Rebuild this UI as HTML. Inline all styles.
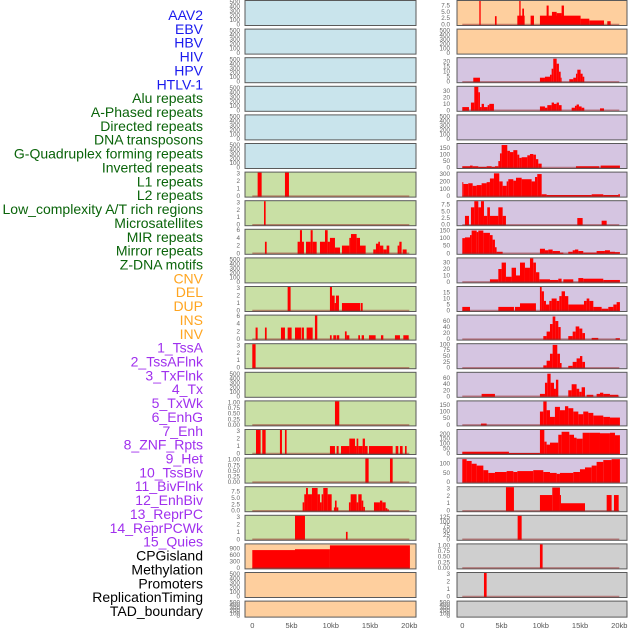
<!DOCTYPE html>
<html><head><meta charset="utf-8"><style>
html,body{margin:0;padding:0;background:#fff;}
svg{display:block;font-family:"Liberation Sans",sans-serif;}
</style></head><body>
<svg id="chart" width="630" height="630" viewBox="0 0 630 630" xmlns="http://www.w3.org/2000/svg"></svg>
<script>
const labelNames = ["AAV2","EBV","HBV","HIV","HPV","HTLV-1","Alu repeats","A-Phased repeats","Directed repeats","DNA transposons","G-Quadruplex forming repeats","Inverted repeats","L1 repeats","L2 repeats","Low_complexity A/T rich regions","Microsatellites","MIR repeats","Mirror repeats","Z-DNA motifs","CNV","DEL","DUP","INS","INV","1_TssA","2_TssAFlnk","3_TxFlnk","4_Tx","5_TxWk","6_EnhG","7_Enh","8_ZNF_Rpts","9_Het","10_TssBiv","11_BivFlnk","12_EnhBiv","13_ReprPC","14_ReprPCWk","15_Quies","CPGisland","Methylation","Promoters","ReplicationTiming","TAD_boundary"];
const labelGroupSizes = [6,13,5,15,5];
const labelGroupColors = ["#1a1aee","#0a640a","#ffa520","#a030ee","#000000"];
const xTickValues = [0,5,10,15,20];
const xTickLabels = ["0","5kb","10kb","15kb","20kb"];

const T500 = ["0","100","200","300","400","500"];
const T3 = ["0","1","2","3"];
const T6 = ["0","2","4","6"];
const T75 = ["0.0","2.5","5.0","7.5"];
const T1 = ["0.00","0.25","0.50","0.75","1.00"];

// left column data: [startKb, endKb, value]
const L6 = [[0.68,1.19,3.3],[4.16,4.67,3.3]];
const L7 = [[1.49,1.7,3.3]];
const L8 = [[1.61,1.83,3],[5.77,6.07,3],[6.07,6.33,6],[6.33,6.58,3],[6.84,7.43,3],[7.43,7.69,6],[7.69,8.2,3],[8.62,9.26,3],[9.26,9.6,6],[9.6,9.89,3],[9.89,10.53,4],[10.53,11.17,1.5],[11.42,12.36,2],[12.36,12.57,4],[12.57,13.29,5],[13.29,13.72,4],[13.72,14.44,2],[15.41,15.75,1],[15.75,16.18,2.5],[16.05,16.26,3],[16.26,16.69,2],[16.69,17.11,1],[17.11,17.45,2],[18.51,18.73,2],[18.73,19.02,3],[19.15,19.66,1]];
const L10 = [[4.5,4.88,3.3],[9.89,10.15,3.3],[10.15,10.49,2],[10.49,10.66,1],[10.66,11.04,2],[11.42,13.72,1],[13.8,14.06,1]];
const L11 = [[0.42,0.68,3],[1.61,1.83,3],[3.65,4.16,3],[4.5,5.01,3],[5.44,6.2,3],[6.28,6.58,3],[6.92,7.69,3],[7.98,8.28,6.3],[9.89,10.11,1],[10.32,10.66,1],[10.74,11.08,1],[11.8,12.02,2],[12.02,12.36,1],[13.5,13.72,1],[13.93,14.23,1],[14.86,15.71,1],[16.39,16.69,1],[18.17,18.81,1],[19.24,19.92,1]];
const L12 = [[0,0.42,3.3]];
const L14 = [[10.53,11.08,1.1]];
const L15 = [[0.47,1.06,3.3],[1.27,1.7,3.3],[3.52,3.78,3.3],[4.16,4.37,3.3],[9.89,10.53,1],[10.74,11.0,1],[11.3,12.36,1],[12.36,13.08,2],[13.08,13.29,1],[13.29,13.5,2],[13.5,14.06,1],[14.06,14.35,2],[14.35,14.69,1],[14.86,17.88,1],[18.26,18.6,1],[18.81,19.15,1],[19.45,19.66,1]];
const L16 = [[14.4,14.82,1.1],[17.54,17.88,1.1]];
const L17 = [[6.41,6.62,3.3],[6.62,6.84,6.5],[6.84,7.09,9],[7.09,7.6,6.5],[7.6,8.32,9],[8.32,8.62,6.5],[8.62,8.83,3.3],[8.83,9.04,6.5],[9.04,9.6,9],[9.6,10.11,6.5],[10.4,10.53,1.3],[10.53,10.74,4],[10.74,10.96,1.3],[12.31,12.53,3.3],[12.53,13.29,6.5],[13.29,13.5,3.3],[13.5,13.93,6.5],[13.93,14.14,4],[14.14,14.35,1.5],[15.5,16.26,3.3],[16.26,16.56,4],[16.56,16.99,3.3],[16.99,17.2,1],[17.2,17.41,0.5]];
const L18 = [[5.44,6.71,3.3],[11.93,12.14,1]];
const L19 = [[0,5.44,830],[5.44,9.89,870],[9.89,20.08,1050]];

// right column data
const R0 = [[2.17,2.34,9.5],[4.16,4.37,3.3],[7.01,7.94,3.5],[7.26,7.43,10],[7.64,7.86,6.3],[8.7,9.13,3.5],[9.89,15.07,3.5],[10.74,11.0,7.5],[11.42,12.02,5],[12.02,12.65,4.5],[12.65,12.95,7.5],[15.07,16.18,2.3],[16.18,18.05,1.6],[18.47,18.9,1.3]];
const R2 = [[1.4,2.25,4],[9.89,10.53,4],[10.53,11.17,5],[11.17,11.38,7],[11.38,11.59,13],[11.59,12.02,23],[12.02,12.31,18],[12.31,12.53,10],[12.53,12.65,4],[13.63,14.14,2.5],[14.14,14.48,4],[14.48,14.65,8],[14.65,15.07,12],[15.07,15.33,8],[15.33,15.54,5]];
const R3 = [[0,0.85,5],[1.1,1.53,12],[1.53,2.04,38],[2.04,2.25,28],[2.25,2.46,5],[2.46,2.76,10],[2.76,3.23,5],[3.23,3.44,8],[3.44,4.03,10],[9.89,10.53,6],[10.53,10.83,4],[10.83,11.38,8],[11.38,11.68,12],[11.68,12.02,10],[12.02,12.31,12],[12.31,12.65,8],[13.93,14.35,4],[14.35,14.56,7],[14.56,14.86,9],[14.86,15.2,6],[15.2,15.54,4],[17.54,18.05,3]];
const R5 = [[0,0.98,10],[0.98,1.32,15],[1.32,2.04,10],[2.04,3.1,5],[3.1,3.74,10],[3.74,4.16,5],[4.16,4.59,10],[4.59,4.8,50],[4.8,5.01,110],[5.01,5.73,175],[5.73,6.07,130],[6.07,6.5,120],[6.5,7.01,135],[7.01,7.26,100],[7.26,7.56,75],[7.56,8.28,80],[8.28,8.62,95],[8.62,9.04,105],[9.04,9.38,100],[9.38,9.68,65],[9.68,10.11,30],[14.48,17.45,10],[17.62,20.08,15]];
const R6 = [[0,0.13,190],[0.13,0.76,165],[0.76,1.32,175],[1.32,1.83,140],[1.83,2.46,150],[2.46,3.1,175],[3.1,3.52,190],[3.52,4.03,240],[4.03,4.71,310],[4.71,5.14,200],[5.14,5.65,140],[5.65,5.86,200],[5.86,6.5,230],[6.5,6.84,210],[6.84,7.56,250],[7.56,8.83,230],[8.83,9.26,200],[9.26,9.55,260],[9.55,10.11,300],[10.11,10.74,25],[10.74,16.48,15],[16.48,17.96,25],[17.96,19.87,15],[19.87,20.08,25]];
const R7 = [[0.34,0.85,3.3],[1.1,1.53,6.5],[1.53,2.04,9],[2.04,2.38,6.5],[2.38,2.76,9],[2.76,3.18,3.3],[3.18,3.52,6.5],[3.52,4.59,3.3],[4.59,5.14,6.5],[5.14,5.56,3.3],[14.65,15.33,2.5],[17.75,18.39,1.5]];
const R8 = [[0,0.34,100],[0.34,0.98,105],[0.98,1.19,120],[1.19,1.83,150],[1.83,2.04,140],[2.04,2.68,150],[2.68,3.52,135],[3.52,3.86,120],[3.86,4.16,90],[4.16,4.37,40],[4.37,5.14,10],[9.89,10.53,30],[10.53,10.96,20],[10.96,11.51,25],[11.51,12.44,15],[12.44,12.87,5],[13.5,14.06,10],[14.06,14.35,20],[14.35,14.78,25],[14.78,15.41,15],[15.41,17.11,5],[17.11,18.17,15],[18.17,18.81,20],[18.81,19.45,10],[19.45,20.08,8]];
const R9 = [[3.52,4.59,4],[4.59,5.01,20],[5.01,5.56,30],[5.56,6.28,8],[6.28,6.84,22],[6.84,7.35,10],[7.35,7.98,30],[7.98,8.62,22],[8.62,9.04,38],[9.04,9.38,30],[9.38,9.81,15],[9.81,11.17,4],[11.17,12.23,3],[12.23,12.65,5],[12.87,14.14,4],[14.78,15.41,6],[15.41,17.96,5],[17.96,20.08,3]];
const R10 = [[0,0.98,3],[4.59,6.58,3],[6.71,7.35,3],[7.35,9.38,6],[9.89,10.11,22],[10.11,10.4,16],[10.4,10.66,8],[10.66,11.08,5],[11.08,11.38,8],[11.38,12.02,10],[12.02,12.36,8],[12.36,12.65,12],[12.65,13.08,16],[13.08,13.5,12],[13.5,15.5,5],[15.5,15.84,8],[15.84,16.18,10],[16.18,16.69,8],[16.69,17.75,3],[17.75,18.6,1.5],[18.6,19.24,3],[19.24,19.66,5],[19.66,20.08,7]];
const R11 = [[10.32,10.74,10],[10.74,11.17,25],[11.17,11.51,50],[11.51,11.85,75],[11.85,12.23,60],[12.23,12.53,40],[13.5,14.06,10],[14.06,14.44,25],[14.44,14.9,42],[14.9,15.29,35],[15.29,15.63,20],[16.48,17.32,4],[19.53,20.08,3]];
const R12 = [[10.32,10.74,10],[10.74,11.17,30],[11.17,11.51,60],[11.51,12.1,98],[12.1,12.44,60],[12.44,12.65,20],[13.5,14.06,8],[14.06,14.56,25],[14.56,14.99,40],[14.99,15.29,50],[15.29,15.63,25]];
const R13 = [[2.46,4.16,8],[9.89,10.53,8],[10.53,10.83,45],[10.83,11.25,75],[11.25,11.68,45],[11.68,11.93,25],[11.93,12.23,55],[13.5,13.93,20],[13.93,14.56,40],[14.56,14.9,25],[14.9,15.2,15],[15.2,15.63,30],[15.84,16.69,5],[17.11,17.54,8],[17.54,17.96,12],[17.96,18.81,8],[18.81,19.87,5]];
const R14 = [[2.38,3.1,10],[9.89,10.32,100],[10.32,10.74,175],[10.74,11.17,110],[11.17,11.8,60],[11.8,12.44,135],[12.44,13.08,110],[13.08,13.5,140],[13.5,14.14,125],[14.14,14.78,100],[14.78,15.41,80],[15.41,16.05,100],[16.05,16.69,90],[16.69,17.96,70],[17.96,18.81,60],[18.81,20.08,55]];
const R15 = [[0,5.94,18],[5.94,9.89,5],[9.89,10.45,240],[10.45,10.74,120],[10.74,11.17,90],[11.17,12.23,110],[12.23,12.65,190],[12.65,13.63,220],[13.63,14.23,190],[14.23,14.56,160],[14.56,15.33,150],[15.33,16.26,210],[16.26,17.54,210],[17.54,18.81,205],[18.81,19.45,210],[19.45,20.08,185]];
const R16 = [[0,0.55,125],[0.55,1.19,115],[1.19,1.83,100],[1.83,2.68,90],[2.68,3.31,65],[3.31,4.16,50],[4.16,5.65,55],[5.65,6.5,60],[6.5,7.01,55],[7.01,9.04,60],[9.04,10.32,65],[10.32,11.17,55],[11.17,12.02,50],[12.02,12.44,45],[12.44,14.14,50],[14.14,14.99,55],[14.99,15.63,70],[15.63,16.48,80],[16.48,17.11,90],[17.11,17.96,110],[17.96,19.02,120],[19.02,20.08,125]];
const R17 = [[5.56,6.58,3.3],[9.89,11.46,2.1],[11.46,12.44,3.1],[12.44,12.57,2.1],[12.57,15.63,1],[18.39,19.02,2.1],[19.32,19.92,2.1]];
const R18 = [[7.05,7.56,135]];
const R19 = [[9.89,10.23,1.1]];
const R20 = [[2.76,3.1,3.3]];

const BLUE="#c9e4ec", GREEN="#c9e0a5", ORANGE="#fecf9e", PURPLE="#d5c5e1", GRAY="#cfcfcf";
const leftPanels = [
 {bg:BLUE,d:[],t:T500,top:525},{bg:BLUE,d:[],t:T500,top:525},{bg:BLUE,d:[],t:T500,top:525},
 {bg:BLUE,d:[],t:T500,top:525},{bg:BLUE,d:[],t:T500,top:525},{bg:BLUE,d:[],t:T500,top:525},
 {bg:GREEN,d:L6,t:T3,top:3.15},{bg:GREEN,d:L7,t:T3,top:3.15},{bg:GREEN,d:L8,t:T6,top:6.1},
 {bg:GREEN,d:[],t:T500,top:525},{bg:GREEN,d:L10,t:T3,top:3.15},{bg:GREEN,d:L11,t:T6,top:6.1},
 {bg:GREEN,d:L12,t:T3,top:3.15},{bg:GREEN,d:[],t:T500,top:525},{bg:GREEN,d:L14,t:T1,top:1.05},
 {bg:GREEN,d:L15,t:T3,top:3.15},{bg:GREEN,d:L16,t:T1,top:1.05},{bg:GREEN,d:L17,t:T75,top:9.3},
 {bg:GREEN,d:L18,t:T3,top:3.15},{bg:ORANGE,d:L19,t:["0","300","600","900"],top:1095},
 {bg:ORANGE,d:[],t:T500,top:525},{bg:ORANGE,d:[],t:T500,top:525}
];
const rightPanels = [
 {bg:ORANGE,d:R0,t:T75,top:9.3},{bg:ORANGE,d:[],t:T500,top:525},
 {bg:PURPLE,d:R2,t:["0","5","10","15","20"],top:23.5},{bg:PURPLE,d:R3,t:["0","10","20","30"],top:36.5},
 {bg:PURPLE,d:[],t:T500,top:525},{bg:PURPLE,d:R5,t:["0","50","100","150"],top:183},
 {bg:PURPLE,d:R6,t:["0","100","200","300"],top:320},{bg:PURPLE,d:R7,t:T75,top:8.8},
 {bg:PURPLE,d:R8,t:["0","50","100","150"],top:155},{bg:PURPLE,d:R9,t:["0","10","20","30"],top:36.5},
 {bg:PURPLE,d:R10,t:["0","5","10","15"],top:19.6},{bg:PURPLE,d:R11,t:["0","20","40","60"],top:78},
 {bg:PURPLE,d:R12,t:["0","25","50","75","100"],top:101},{bg:PURPLE,d:R13,t:["0","20","40","60"],top:78},
 {bg:PURPLE,d:R14,t:["0","50","100","150"],top:176},{bg:PURPLE,d:R15,t:["0","50","100","150","200"],top:238},
 {bg:PURPLE,d:R16,t:["0","50","100"],top:128},{bg:GRAY,d:R17,t:T3,top:3.15},
 {bg:GRAY,d:R18,t:["0","25","50","75","100","125"],top:131},{bg:GRAY,d:R19,t:T1,top:1.05},
 {bg:GRAY,d:R20,t:T3,top:3.15},{bg:GRAY,d:[],t:T500,top:525}
];

const svg = document.getElementById('chart');
const NS = "http://www.w3.org/2000/svg";
function mk(tag, attrs){ const e=document.createElementNS(NS,tag); for(const k in attrs) e.setAttribute(k,attrs[k]); svg.appendChild(e); return e; }

// labels
let gi=0, cnt=0;
labelNames.forEach((name,i)=>{
  while(cnt>=labelGroupSizes[gi]){ gi++; cnt=0; }
  cnt++;
  const t = mk('text',{x:203,y:15+13.86*i,'text-anchor':'end','dominant-baseline':'central','font-size':'14',fill:labelGroupColors[gi]});
  t.textContent = name;
  
  
});

function drawColumn(panels, boxX, boxW, x0, x1, tickRight, colName){
  const xs = kb => x0 + (kb/20)*(x1-x0);
  panels.forEach((p,i)=>{
    const T = 0.5 + 28.6*i;
    const H = (i===21) ? 16 : 25;
    const yb = T + H - 1, yt = T + 0.5;
    const ys = v => Math.max(yt, yb - (v/p.top)*(yb-yt));
    const box = mk('rect',{x:boxX,y:T,width:boxW,height:H,fill:p.bg,stroke:'#5a5a5a','stroke-width':1});
    
    
    p.t.forEach(lbl=>{
      const v=parseFloat(lbl);
      const tx = mk('text',{x:tickRight,y:ys(v)+2,'text-anchor':'end','font-size':'6.3',fill:'#666'});
      tx.textContent = lbl;
      
      
    });
    if(p.d.length){
      p.d.forEach(s=>{
        const y = ys(s[2]);
        const r = mk('rect',{x:xs(s[0]),y:y,width:Math.max(0.8,xs(s[1])-xs(s[0])),height:yb-y+0.5,fill:'#ff0000'});
        
        
      });
      const bl = mk('line',{x1:xs(0),x2:xs(20),y1:yb,y2:yb,stroke:'rgba(150,40,40,0.5)','stroke-width':1.5});
      
      
    }
  });
  xTickValues.forEach((v,k)=>{
    const tx = mk('text',{x:xs(v),y:628,'text-anchor':'middle','font-size':'7.5',fill:'#555'});
    tx.textContent = xTickLabels[k];
    
    
  });
}
drawColumn(leftPanels, 245, 171, 252.3, 409.3, 240, 'left');
drawColumn(rightPanels, 457, 170, 462.3, 619.3, 450, 'right');
</script>
</body></html>
